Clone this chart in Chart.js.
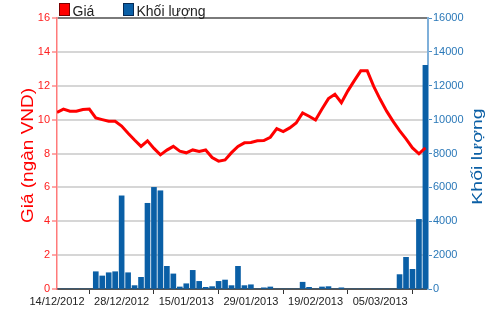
<!DOCTYPE html>
<html>
<head>
<meta charset="utf-8">
<script src="https://cdn.jsdelivr.net/npm/chart.js@4/dist/chart.umd.min.js"></script>
<style>
html,body{margin:0;padding:0;background:#fff;}
canvas{display:block;}
</style>
</head>
<body>
<canvas id="c" width="500" height="312"></canvas>
<script>
const dates = ["14/12/2012","17/12/2012","18/12/2012","19/12/2012","20/12/2012","21/12/2012","24/12/2012","25/12/2012","26/12/2012","27/12/2012",
"28/12/2012","02/01/2013","03/01/2013","04/01/2013","07/01/2013","08/01/2013","09/01/2013","10/01/2013","11/01/2013","14/01/2013",
"15/01/2013","16/01/2013","17/01/2013","18/01/2013","21/01/2013","22/01/2013","23/01/2013","24/01/2013","25/01/2013","28/01/2013",
"29/01/2013","30/01/2013","31/01/2013","01/02/2013","04/02/2013","05/02/2013","06/02/2013","07/02/2013","08/02/2013","18/02/2013",
"19/02/2013","20/02/2013","21/02/2013","22/02/2013","25/02/2013","26/02/2013","27/02/2013","28/02/2013","01/03/2013","04/03/2013",
"05/03/2013","06/03/2013","07/03/2013","08/03/2013","11/03/2013","12/03/2013","13/03/2013","14/03/2013"];

const price = [10.43,10.62,10.5,10.5,10.6,10.62,10.1,10.0,9.9,9.9,
9.62,9.2,8.8,8.42,8.75,8.3,7.92,8.2,8.42,8.14,
8.04,8.21,8.12,8.21,7.76,7.55,7.62,8.05,8.42,8.63,
8.65,8.75,8.76,8.96,9.47,9.29,9.51,9.8,10.39,10.2,
9.98,10.63,11.24,11.5,11.0,11.7,12.3,12.88,12.88,11.96,
11.2,10.5,9.9,9.35,8.86,8.33,7.98,8.33];

const volume = [0,0,0,0,0,0,1020,770,960,1020,
5500,960,200,690,5060,6000,5800,1340,890,120,
310,1100,450,100,140,450,530,200,1340,200,
250,0,70,120,0,0,0,0,400,100,
0,120,140,0,70,0,0,0,0,0,
0,0,0,850,1870,1160,4110,13200];

const priceTicks = [0,2,4,6,8,10,12,14,16];
const volumeTicks = [0,2000,4000,6000,8000,10000,12000,14000,16000];
const seriesNames = ["Giá","Khối lượng"];
const axisTitles = ["Giá (ngàn VND)","Khối lượng"];

const NARROW = "'Liberation Sans Narrow','Liberation Sans',Arial,sans-serif";
const SANS = "'Liberation Sans',Arial,sans-serif";

const decor = {
  id: 'decor',
  afterDraw(chart) {
    const ctx = chart.ctx;
    const area = chart.chartArea;
    ctx.save();
    const items = [
      {x: 59.5, color: '#ff0000', border: '#7a0000', text: seriesNames[0]},
      {x: 123.5, color: '#0a5fa6', border: '#062a55', text: seriesNames[1]}
    ];
    ctx.font = '14px ' + SANS;
    ctx.textBaseline = 'alphabetic';
    ctx.textAlign = 'left';
    items.forEach(it => {
      ctx.fillStyle = it.color;
      ctx.fillRect(it.x, 3.5, 10, 12);
      ctx.strokeStyle = it.border;
      ctx.lineWidth = 1;
      ctx.strokeRect(it.x, 3.5, 10, 12);
      ctx.fillStyle = '#222';
      ctx.fillText(it.text, it.x + 13, 15.5);
    });
    const cy = (area.top + area.bottom) / 2;
    ctx.save();
    ctx.translate(33, cy + 2);
    ctx.rotate(-Math.PI / 2);
    ctx.scale(1, 0.9);
    ctx.font = '19px ' + SANS;
    ctx.textAlign = 'center';
    ctx.fillStyle = '#ff0000';
    ctx.fillText(axisTitles[0], 0, 0);
    ctx.restore();
    ctx.save();
    ctx.translate(482, cy + 3);
    ctx.rotate(-Math.PI / 2);
    ctx.scale(1, 0.75);
    ctx.font = '19.5px ' + SANS;
    ctx.textAlign = 'center';
    ctx.fillStyle = '#0b5fa5';
    ctx.fillText(axisTitles[1], 0, 0);
    ctx.restore();
    ctx.restore();
  }
};

new Chart(document.getElementById('c'), {
  type: 'bar',
  data: {
    datasets: [
      {
        type: 'line',
        label: seriesNames[0],
        data: price.map((v, i) => ({x: i, y: v})),
        yAxisID: 'y',
        borderColor: '#ff0000',
        borderWidth: 3,
        pointRadius: 0,
        tension: 0,
        fill: false,
        order: 0
      },
      {
        type: 'bar',
        label: seriesNames[1],
        data: volume.map((v, i) => ({x: i, y: v})),
        yAxisID: 'y1',
        backgroundColor: '#0a5fa6',
        barThickness: 5,
        order: 1
      }
    ]
  },
  options: {
    responsive: false,
    animation: false,
    devicePixelRatio: 1,
    layout: {padding: {top: 18, left: 0, right: 0, bottom: 0}},
    plugins: {legend: {display: false}, tooltip: {enabled: false}},
    scales: {
      x: {
        type: 'linear',
        min: 0,
        max: 57.4,
        offset: false,
        afterFit: s => { s.height = 23; },
        afterBuildTicks: s => { s.ticks = s.ticks.filter(t => Number.isInteger(t.value) && t.value % 10 === 0); },
        ticks: {
          stepSize: 10,
          autoSkip: false,
          maxRotation: 0,
          padding: 1,
          color: '#222',
          font: {family: NARROW, size: 11},
          callback: v => dates[v] || ''
        },
        grid: {drawOnChartArea: false, drawTicks: true, tickLength: 5, tickColor: '#333', tickWidth: 1},
        border: {color: '#555', width: 2}
      },
      y: {
        position: 'left',
        min: 0,
        max: 16,
        afterFit: s => { s.width = 57; },
        afterBuildTicks: s => { s.ticks = priceTicks.map(v => ({value: v})); },
        ticks: {
          stepSize: 2,
          padding: 2,
          color: '#ff2020',
          font: {family: NARROW, size: 11},
          callback: v => String(v)
        },
        grid: {
          color: c => c.tick && c.tick.value === 16 ? '#7a7a7a' : (c.tick && c.tick.value === 0 ? '#555' : '#d6d6d6'),
          lineWidth: 2,
          tickLength: 5,
          tickColor: '#ff5050',
          tickWidth: 1
        },
        border: {color: '#ff7a7a', width: 1.5}
      },
      y1: {
        position: 'right',
        min: 0,
        max: 16000,
        afterFit: s => { s.width = 72; },
        afterBuildTicks: s => { s.ticks = volumeTicks.map(v => ({value: v})); },
        ticks: {
          stepSize: 2000,
          padding: 1,
          color: '#2a78b8',
          font: {family: NARROW, size: 11},
          callback: v => String(v)
        },
        grid: {drawOnChartArea: false, tickLength: 4, tickColor: '#4a8cc4', tickWidth: 1},
        border: {color: '#7fb0da', width: 2}
      }
    }
  },
  plugins: [decor]
});
</script>
</body>
</html>
